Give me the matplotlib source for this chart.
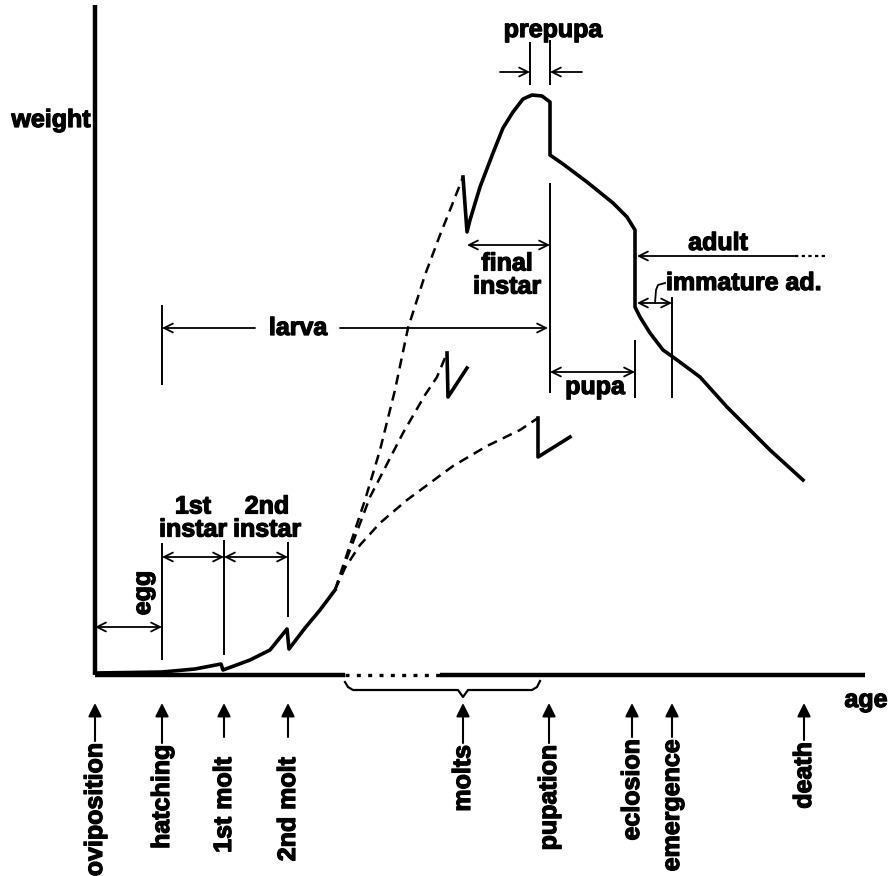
import matplotlib

matplotlib.use("Agg")
import matplotlib.patheffects as pe  # noqa: E402
import matplotlib.pyplot as plt  # noqa: E402

# schematic units: age and weight measured from the origin of the axes
early_age = [0, 35, 67, 100, 126, 128, 155, 175, 192, 194, 210, 225, 240]
early_wt = [2, 2.5, 3, 6, 11, 5, 15, 25, 46, 26, 47, 65, 85]

fast_age = [240, 255, 270, 285, 300, 313, 330, 345, 357, 368]
fast_wt = [85, 130, 175, 225, 285, 347, 400, 440, 470, 498]

final_age = [368, 372, 375, 385, 398, 408, 418, 428, 437, 447, 455,
             455, 468, 492, 518, 532, 540,
             540, 545, 555, 568, 578, 605, 632, 675, 708]
final_wt = [498, 443, 455, 488, 522, 547, 563, 576, 580, 579, 573,
            520, 511, 493, 472, 458, 445,
            368, 358, 342, 325, 318, 298, 268, 225, 195]

mid_age = [240, 255, 275, 308, 330, 342, 352]
mid_wt = [85, 125, 178, 242, 280, 298, 322]
mid_molt_age = [352, 353, 372]
mid_molt_wt = [322, 278, 307]

slow_age = [240, 250, 265, 285, 312, 358, 392, 425, 443]
slow_wt = [85, 107, 130, 152, 175, 209, 229, 245, 257]
slow_molt_age = [443, 443, 475]
slow_molt_wt = [257, 218, 238]

events = ["oviposition", "hatching", "1st molt", "2nd molt", "molts",
          "pupation", "eclosion", "emergence", "death"]
event_age = [0, 67, 129, 193, 368, 454, 537, 577, 709]
event_text_top = [-66, -68, -80, -80, -68, -68, -62, -62, -65]
event_arrow_end = [-66, -68, -62, -62, -68, -68, -62, -62, -65]

FS = 18
FONT = "Liberation Sans"
HEAVY = [pe.withStroke(linewidth=0.9, foreground="black")]


def span(ax, a0, a1, w, style="<->"):
    ax.annotate("", xy=(a1, w), xytext=(a0, w),
                arrowprops=dict(arrowstyle=style, lw=1.3, color="black",
                                shrinkA=0, shrinkB=0, mutation_scale=16))


def tick(ax, a, w0, w1, lw=1.4):
    ax.plot([a, a], [w0, w1], color="black", lw=lw, solid_capstyle="butt")


def label(ax, a, w, s, **kw):
    kw.setdefault("ha", "center")
    kw.setdefault("va", "center")
    ax.text(a, w, s, fontsize=FS, fontweight="bold", family=FONT,
            path_effects=HEAVY, **kw)


fig = plt.figure(figsize=(8.94, 8.76), dpi=100)
ax = fig.add_axes([0, 0, 1, 1])
ax.set_xlim(-95, 799)
ax.set_ylim(-201, 675)
ax.axis("off")

# axes of the diagram
ax.plot([0, 0], [0, 670], color="black", lw=3.2, solid_capstyle="butt")
ax.plot([0, 250], [0, 0], color="black", lw=3.2, solid_capstyle="butt")
ax.plot([250, 345], [0, 0], color="black", lw=2.4, linestyle=(0, (1.2, 2.2)))
ax.plot([345, 770], [0, 0], color="black", lw=3.2, solid_capstyle="butt")

# growth curves
solid = dict(color="black", lw=2.6, solid_joinstyle="round")
dashed = dict(color="black", lw=1.8, linestyle=(0, (4, 2.6)))
ax.plot(early_age, early_wt, **solid)
ax.plot(fast_age, fast_wt, **dashed)
ax.plot(final_age, final_wt, **solid)
ax.plot(mid_age, mid_wt, **dashed)
ax.plot(mid_molt_age, mid_molt_wt, **solid)
ax.plot(slow_age, slow_wt, **dashed)
ax.plot(slow_molt_age, slow_molt_wt, **solid)

# brace under the molts
brace_age = [250, 253, 258, 363, 368, 373, 437, 442, 445]
brace_wt = [-7, -12, -15, -15, -22, -15, -15, -12, -6]
ax.plot(brace_age, brace_wt, color="black", lw=1.6)

# event labels along the age axis
for name, a, top, end in zip(events, event_age, event_text_top, event_arrow_end):
    ax.annotate("", xy=(a, -28), xytext=(a, end),
                arrowprops=dict(arrowstyle="-|>", lw=1.5, color="black",
                                shrinkA=0, shrinkB=0, mutation_scale=20))
    label(ax, a, top - 2, name, rotation=90, va="top")

label(ax, -44, 555, "weight")
label(ax, 771, -25, "age")

# egg, 1st and 2nd instar
span(ax, 0, 67, 48)
label(ax, 48, 82, "egg", rotation=90)
tick(ax, 67, 15, 132)
span(ax, 67, 129, 118)
span(ax, 129, 193, 118)
tick(ax, 129, 20, 135)
tick(ax, 193, 58, 133)
label(ax, 98, 157, "1st\ninstar", linespacing=0.95)
label(ax, 172, 157, "2nd\ninstar", linespacing=0.95)

# larva
tick(ax, 67, 290, 370)
span(ax, 160, 67, 347, style="->")
span(ax, 245, 453, 347, style="->")
label(ax, 203, 347, "larva")

# final instar and prepupa
span(ax, 372, 455, 430)
label(ax, 412, 400, "final\ninstar", linespacing=0.95)
tick(ax, 455, 282, 492)
tick(ax, 435, 590, 633)
tick(ax, 455, 590, 635)
span(ax, 405, 435, 603, style="->")
span(ax, 487, 455, 603, style="->")
label(ax, 458, 645, "prepupa")

# pupa
span(ax, 455, 540, 303)
label(ax, 500, 288, "pupa")
tick(ax, 540, 277, 335)

# adult and immature adult
span(ax, 700, 542, 419, style="->")
ax.plot([700, 733], [419, 419], color="black", lw=1.6, linestyle=(0, (1.5, 1.5)))
label(ax, 623, 432, "adult")
span(ax, 542, 577, 372)
tick(ax, 577, 277, 378)
ax.plot([560, 561, 563, 570], [372, 385, 390, 392], color="black", lw=1.3)
label(ax, 571, 392, "immature ad.", ha="left")

fig.savefig("out.png", dpi=100)
